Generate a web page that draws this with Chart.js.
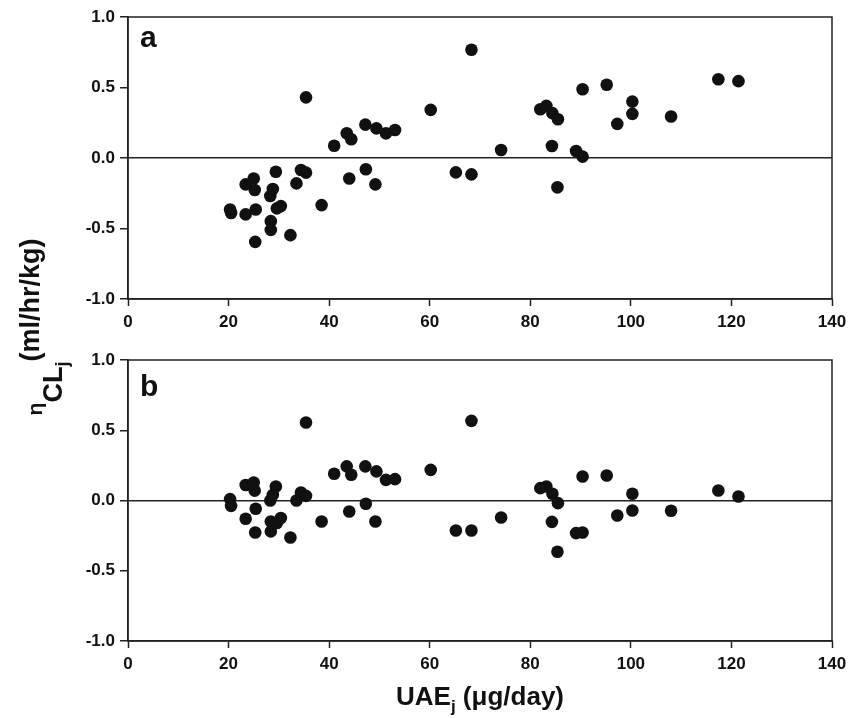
<!DOCTYPE html>
<html>
<head>
<meta charset="utf-8">
<script src="https://cdn.jsdelivr.net/npm/chart.js@4.4.1/dist/chart.umd.min.js"></script>
<style>
  body { margin: 0; background: #fff; }
  #wrap { position: relative; width: 860px; height: 718px; }
  canvas { position: absolute; left: 0; }
  #chartA { top: 0; }
  #chartB { top: 340px; }
  svg { position: absolute; left: 0; top: 0; pointer-events: none; }
</style>
</head>
<body>
<div id="wrap">
  <canvas id="chartA" width="860" height="340"></canvas>
  <canvas id="chartB" width="860" height="378"></canvas>
  <svg width="860" height="718" font-family="'Liberation Sans', Arial, sans-serif" font-weight="bold" fill="#111">
    <text transform="translate(39,327) rotate(-90)" text-anchor="middle">
      <tspan dy="3" font-size="21">η</tspan><tspan dy="20" font-size="27">CL</tspan><tspan dy="6" font-size="18">j</tspan><tspan dy="-29" font-size="27">(ml/hr/kg)</tspan>
    </text>
    <text x="480" y="705" font-size="26" text-anchor="middle">
      <tspan>UAE</tspan><tspan dy="7" font-size="17">j</tspan><tspan dy="-7"> (μg/day)</tspan>
    </text>
  </svg>
</div>
<script>
// UAE per subject (x), shared by both panels
const uae = [20.3, 20.5, 23.4, 23.4, 25.0, 25.2, 25.4, 25.3, 28.8, 28.3, 28.4, 28.4, 29.4, 29.6, 30.4, 32.3,
  33.5, 34.4, 35.4, 35.4, 38.5, 41.0, 43.5, 44.4, 44.0, 47.2, 47.3, 49.4, 49.2, 51.3, 53.1, 60.2,
  65.2, 68.3, 68.3, 74.2, 82.0, 83.2, 84.4, 85.5, 84.3, 85.4, 89.1, 90.4, 90.4, 95.2, 97.3, 100.3,
  100.3, 108.0, 117.4, 121.4];

// panel a: eta CL
const etaA = [-0.365, -0.39, -0.187, -0.40, -0.145, -0.227, -0.365, -0.595, -0.22, -0.27, -0.448, -0.51, -0.097, -0.357, -0.341, -0.547,
  -0.18, -0.085, -0.104, 0.43, -0.334, 0.087, 0.175, 0.133, -0.145, 0.237, -0.08, 0.21, -0.187, 0.175, 0.199, 0.341,
  -0.102, 0.768, -0.116, 0.057, 0.346, 0.37, 0.318, 0.275, 0.085, -0.208, 0.05, 0.01, 0.488, 0.519, 0.242, 0.40,
  0.313, 0.294, 0.559, 0.545];

// panel b: eta CL after covariate
const etaB = [0.01, -0.038, 0.11, -0.13, 0.128, 0.07, -0.059, -0.228, 0.04, 0.0, -0.149, -0.22, 0.1, -0.16, -0.125, -0.263,
  0.0, 0.057, 0.033, 0.555, -0.149, 0.19, 0.243, 0.183, -0.078, 0.243, -0.023, 0.207, -0.149, 0.147, 0.152, 0.218,
  -0.213, 0.567, -0.213, -0.121, 0.088, 0.1, 0.048, -0.019, -0.152, -0.365, -0.232, -0.228, 0.171, 0.178, -0.107, 0.048,
  -0.071, -0.073, 0.071, 0.028];

const xTicks = [0, 20, 40, 60, 80, 100, 120, 140];
const yTicks = [-1.0, -0.5, 0.0, 0.5, 1.0];

Chart.defaults.font.family = "'Liberation Sans', Arial, sans-serif";
Chart.defaults.color = '#111';

const ink = '#222';

// box around plot + panel letter
const framePlugin = {
  id: 'frame',
  afterDraw(chart, args, opts) {
    const { ctx, chartArea: a } = chart;
    ctx.save();
    ctx.strokeStyle = ink;
    ctx.lineWidth = 1.5;
    ctx.strokeRect(a.left, a.top, a.right - a.left, a.bottom - a.top);
    ctx.fillStyle = '#111';
    ctx.font = "bold 30px 'Liberation Sans', Arial, sans-serif";
    ctx.textBaseline = 'alphabetic';
    ctx.fillText(opts.text, a.left + 12, a.top + opts.dy);
    ctx.restore();
  }
};

function makePanel(id, eta, letter, padTop, axisH, letterDy) {
  const ctx = document.getElementById(id).getContext('2d');
  return new Chart(ctx, {
    type: 'scatter',
    data: {
      datasets: [{
        data: uae.map((x, i) => ({ x: x, y: eta[i] })),
        backgroundColor: '#111',
        borderWidth: 0,
        pointRadius: 6.3,
        pointHoverRadius: 6.3,
      }],
    },
    options: {
      responsive: false,
      animation: false,
      layout: { padding: { top: padTop, right: 28, left: 0, bottom: 0 } },
      plugins: {
        legend: { display: false },
        tooltip: { enabled: false },
        frame: { text: letter, dy: letterDy },
      },
      scales: {
        x: {
          type: 'linear',
          min: 0,
          max: 140,
          afterBuildTicks: (s) => { s.ticks = xTicks.map((v) => ({ value: v })); },
          afterFit: (s) => { s.height = axisH; },
          ticks: { font: { size: 17, weight: 'bold' }, color: '#111', padding: 6, maxRotation: 0 },
          grid: { drawOnChartArea: false, drawTicks: true, tickLength: 7, tickColor: ink, tickWidth: 1.5 },
          border: { color: ink, width: 1.5 },
        },
        y: {
          min: -1,
          max: 1,
          afterBuildTicks: (s) => { s.ticks = yTicks.map((v) => ({ value: v })); },
          afterFit: (s) => { s.width = 128; },
          ticks: {
            font: { size: 17, weight: 'bold' },
            color: '#111',
            padding: 5,
            callback: (v) => v.toFixed(1),
          },
          grid: {
            color: (c) => (c.tick && c.tick.value === 0 ? ink : 'rgba(0,0,0,0)'),
            lineWidth: 1.5,
            tickLength: 8,
            tickColor: ink,
            tickWidth: 1.5,
          },
          border: { color: ink, width: 1.5 },
        },
      },
    },
    plugins: [framePlugin],
  });
}

makePanel('chartA', etaA, 'a', 17, 41, 30);
makePanel('chartB', etaB, 'b', 20, 77, 36);
</script>
</body>
</html>
